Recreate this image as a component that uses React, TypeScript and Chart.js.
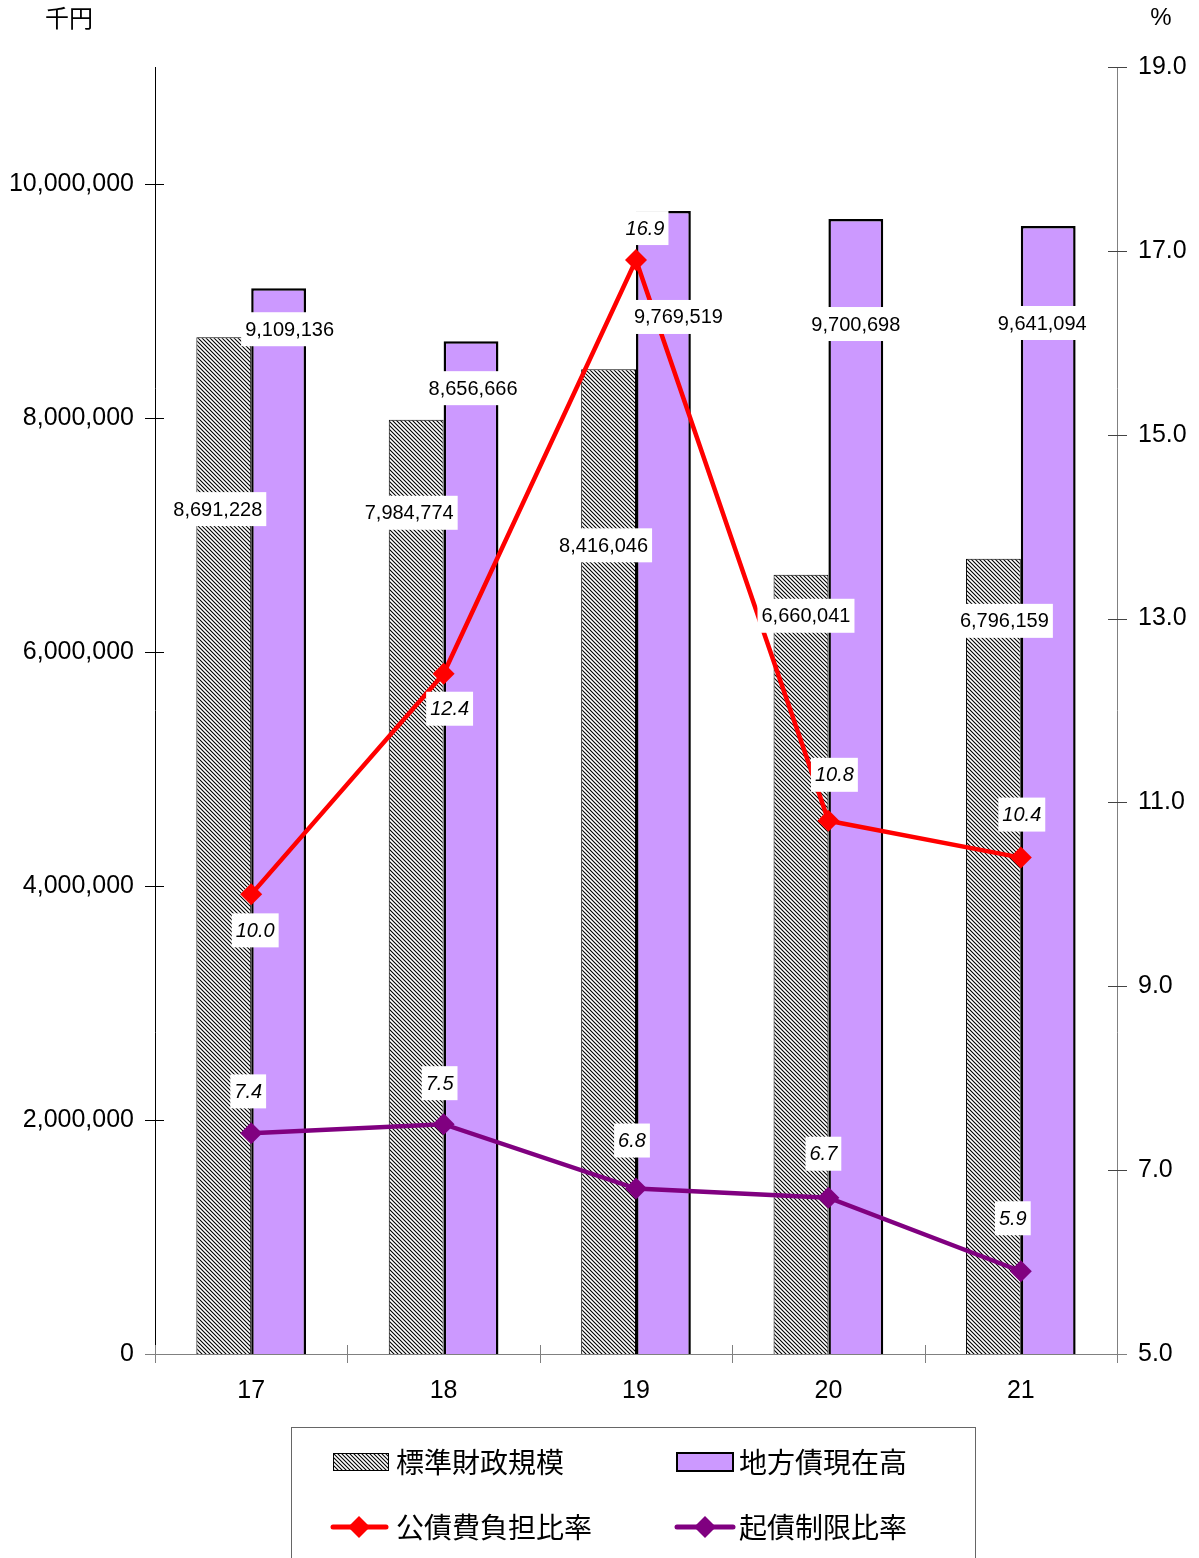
import React, { useEffect, useRef } from "react";
import { Chart, registerables } from "chart.js";

Chart.register(...registerables);

// 年度
const categories = ["17", "18", "19", "20", "21"];
// 千円
const standardScale = [8691228, 7984774, 8416046, 6660041, 6796159];
const debtBalance = [9109136, 8656666, 9769519, 9700698, 9641094];
// %
const debtServiceRatio = [10.0, 12.4, 16.9, 10.8, 10.4];
const debtLimitRatio = [7.4, 7.5, 6.8, 6.7, 5.9];

const leftTicks = [0, 2000000, 4000000, 6000000, 8000000, 10000000];
const rightTicks = [5, 7, 9, 11, 13, 15, 17, 19];

// label offsets (px) from each mark's anchor point
const standardLabelOffsets = [[-6, 172], [-7, 93], [-5, 176], [5, 41], [11, 62]];
const balanceLabelOffsets = [[11, 41], [2, 47], [15, 106], [0, 105], [-6, 97]];
const serviceLabelOffsets = [[4, 36], [6, 35], [9, -32], [6, -46], [1, -43]];
const limitLabelOffsets = [[-3, -42], [-4, -41], [-4, -48], [-5, -44], [-8, -53]];

const W = 1199;
const H = 1558;
const SANS = "'Liberation Sans', Arial, sans-serif";
const CJK = "'Noto Sans CJK JP', 'Noto Sans', sans-serif";
const PURPLE_FILL = "#CC99FF";
const RED = "#FF0000";
const PURPLE_LINE = "#800080";

function makeHatch(): CanvasPattern | string {
  const p = 4;
  const tile = document.createElement("canvas");
  tile.width = p;
  tile.height = p;
  const c = tile.getContext("2d");
  if (!c) return "#999";
  c.fillStyle = "#ffffff";
  c.fillRect(0, 0, p, p);
  c.strokeStyle = "#000000";
  c.lineWidth = 1.1;
  c.beginPath();
  c.moveTo(-1, -1);
  c.lineTo(p + 1, p + 1);
  c.moveTo(-1, p - 1);
  c.lineTo(1, p + 1);
  c.moveTo(p - 1, -1);
  c.lineTo(p + 1, 1);
  c.stroke();
  const ctx = document.createElement("canvas").getContext("2d");
  const pat = ctx ? ctx.createPattern(tile, "repeat") : null;
  return pat || "#999";
}

const fmt = (v: number) => v.toLocaleString("en-US");

function drawBoxedText(
  ctx: CanvasRenderingContext2D,
  text: string,
  cx: number,
  cy: number,
  font: string
) {
  ctx.font = font;
  const w = ctx.measureText(text).width;
  const padX = 4;
  const h = 34;
  ctx.fillStyle = "#ffffff";
  ctx.fillRect(cx - w / 2 - padX, cy - h / 2, w + padX * 2, h);
  ctx.fillStyle = "#000000";
  ctx.textAlign = "center";
  ctx.textBaseline = "middle";
  ctx.fillText(text, cx, cy + 1);
}

function drawDiamond(ctx: CanvasRenderingContext2D, x: number, y: number, r: number, color: string) {
  ctx.fillStyle = color;
  ctx.beginPath();
  ctx.moveTo(x, y - r);
  ctx.lineTo(x + r, y);
  ctx.lineTo(x, y + r);
  ctx.lineTo(x - r, y);
  ctx.closePath();
  ctx.fill();
}

export default function App() {
  const canvasRef = useRef<HTMLCanvasElement | null>(null);

  useEffect(() => {
    const canvas = canvasRef.current;
    if (!canvas) return;
    const hatch = makeHatch();

    const axesPlugin = {
      id: "axesAndFrame",
      beforeDatasetsDraw(chart: any) {
        const ctx: CanvasRenderingContext2D = chart.ctx;
        const { left, right, top, bottom } = chart.chartArea;
        const y = chart.scales.y;
        const y1 = chart.scales.y1;
        ctx.save();
        // left axis
        ctx.strokeStyle = "#000000";
        ctx.lineWidth = 1;
        ctx.beginPath();
        ctx.moveTo(Math.round(left) + 0.5, top);
        ctx.lineTo(Math.round(left) + 0.5, bottom);
        leftTicks.forEach((v) => {
          const py = Math.round(y.getPixelForValue(v)) + 0.5;
          ctx.moveTo(left - 10, py);
          ctx.lineTo(left + 9, py);
        });
        ctx.stroke();
        // right axis
        ctx.strokeStyle = "#808080";
        ctx.beginPath();
        ctx.moveTo(Math.round(right) + 0.5, top);
        ctx.lineTo(Math.round(right) + 0.5, bottom);
        ctx.stroke();
        ctx.strokeStyle = "#444444";
        ctx.beginPath();
        rightTicks.forEach((v) => {
          const py = Math.round(y1.getPixelForValue(v)) + 0.5;
          ctx.moveTo(right - 9, py);
          ctx.lineTo(right + 10, py);
        });
        ctx.stroke();
        // category axis
        ctx.strokeStyle = "#808080";
        ctx.beginPath();
        ctx.moveTo(left - 10, Math.round(bottom) + 0.5);
        ctx.lineTo(right + 10, Math.round(bottom) + 0.5);
        const n = categories.length;
        for (let i = 0; i <= n; i++) {
          const px = Math.round(left + ((right - left) * i) / n) + 0.5;
          ctx.moveTo(px, bottom - 9);
          ctx.lineTo(px, bottom + 9);
        }
        ctx.stroke();
        ctx.restore();
      },
      afterDatasetsDraw(chart: any) {
        const ctx: CanvasRenderingContext2D = chart.ctx;
        ctx.save();
        const barFont = `20px ${SANS}`;
        const lineFont = `italic 20px ${SANS}`;
        const m0 = chart.getDatasetMeta(0).data;
        const m1 = chart.getDatasetMeta(1).data;
        const m2 = chart.getDatasetMeta(2).data;
        const m3 = chart.getDatasetMeta(3).data;
        m0.forEach((el: any, i: number) => {
          const [dx, dy] = standardLabelOffsets[i];
          drawBoxedText(ctx, fmt(standardScale[i]), el.x + dx, el.y + dy, barFont);
        });
        m1.forEach((el: any, i: number) => {
          const [dx, dy] = balanceLabelOffsets[i];
          drawBoxedText(ctx, fmt(debtBalance[i]), el.x + dx, el.y + dy, barFont);
        });
        m2.forEach((el: any, i: number) => {
          const [dx, dy] = serviceLabelOffsets[i];
          drawBoxedText(ctx, debtServiceRatio[i].toFixed(1), el.x + dx, el.y + dy, lineFont);
        });
        m3.forEach((el: any, i: number) => {
          const [dx, dy] = limitLabelOffsets[i];
          drawBoxedText(ctx, debtLimitRatio[i].toFixed(1), el.x + dx, el.y + dy, lineFont);
        });
        ctx.restore();
      },
      afterDraw(chart: any) {
        const ctx: CanvasRenderingContext2D = chart.ctx;
        ctx.save();
        // unit captions
        ctx.fillStyle = "#000000";
        ctx.textBaseline = "middle";
        ctx.textAlign = "left";
        ctx.font = `24px ${CJK}`;
        ctx.fillText("千円", 45, 18);
        ctx.textAlign = "center";
        ctx.font = `24px ${SANS}`;
        ctx.fillText("%", 1161, 18);

        // legend frame
        ctx.strokeStyle = "#666666";
        ctx.lineWidth = 1;
        ctx.strokeRect(291.5, 1427.5, 684, 200);

        const row1 = 1462;
        const row2 = 1527;
        // bar swatches
        ctx.fillStyle = hatch as any;
        ctx.fillRect(333, 1453, 56, 18);
        ctx.strokeStyle = "#000000";
        ctx.lineWidth = 1;
        ctx.strokeRect(333.5, 1453.5, 55, 17);
        ctx.fillStyle = PURPLE_FILL;
        ctx.fillRect(677, 1453, 56, 18);
        ctx.lineWidth = 2;
        ctx.strokeRect(677, 1453, 56, 18);
        // line swatches
        ctx.lineCap = "round";
        ctx.lineWidth = 5;
        ctx.strokeStyle = RED;
        ctx.beginPath();
        ctx.moveTo(333, row2);
        ctx.lineTo(386, row2);
        ctx.stroke();
        drawDiamond(ctx, 359, row2, 11, RED);
        ctx.strokeStyle = PURPLE_LINE;
        ctx.beginPath();
        ctx.moveTo(677, row2);
        ctx.lineTo(733, row2);
        ctx.stroke();
        drawDiamond(ctx, 705, row2, 11, PURPLE_LINE);

        ctx.fillStyle = "#000000";
        ctx.textAlign = "left";
        ctx.textBaseline = "middle";
        ctx.font = `28px ${CJK}`;
        ctx.fillText("標準財政規模", 396, row1);
        ctx.fillText("地方債現在高", 739, row1);
        ctx.fillText("公債費負担比率", 396, row2);
        ctx.fillText("起債制限比率", 739, row2);
        ctx.restore();
      },
    };

    const chart = new Chart(canvas, {
      type: "bar",
      data: {
        labels: categories,
        datasets: [
          {
            type: "bar",
            label: "標準財政規模",
            data: standardScale,
            yAxisID: "y",
            backgroundColor: hatch as any,
            borderColor: "#000000",
            borderWidth: 1,
            categoryPercentage: 0.57,
            barPercentage: 1.0,
            order: 2,
          },
          {
            type: "bar",
            label: "地方債現在高",
            data: debtBalance,
            yAxisID: "y",
            backgroundColor: PURPLE_FILL,
            borderColor: "#000000",
            borderWidth: 2.5,
            categoryPercentage: 0.57,
            barPercentage: 1.0,
            order: 2,
          },
          {
            type: "line",
            label: "公債費負担比率",
            data: debtServiceRatio,
            yAxisID: "y1",
            borderColor: RED,
            backgroundColor: RED,
            borderWidth: 4.5,
            pointStyle: "rectRot",
            pointRadius: 11,
            pointBorderWidth: 0,
            pointBackgroundColor: RED,
            tension: 0,
            order: 0,
          },
          {
            type: "line",
            label: "起債制限比率",
            data: debtLimitRatio,
            yAxisID: "y1",
            borderColor: PURPLE_LINE,
            backgroundColor: PURPLE_LINE,
            borderWidth: 4.5,
            pointStyle: "rectRot",
            pointRadius: 11,
            pointBorderWidth: 0,
            pointBackgroundColor: PURPLE_LINE,
            tension: 0,
            order: 0,
          },
        ] as any,
      },
      options: {
        responsive: false,
        animation: false,
        layout: { padding: { top: 67, left: 0, right: 0, bottom: 0 } },
        plugins: {
          legend: { display: false },
          tooltip: { enabled: false },
          title: { display: false },
        },
        scales: {
          x: {
            grid: { display: false, drawTicks: false },
            border: { display: false },
            ticks: {
              color: "#000000",
              font: { family: SANS, size: 25 },
              padding: 22,
            },
            afterFit: (s: any) => {
              s.height = 204;
            },
          },
          y: {
            position: "left",
            min: 0,
            max: 11000000,
            grid: { display: false, drawTicks: false },
            border: { display: false },
            ticks: {
              stepSize: 2000000,
              color: "#000000",
              font: { family: SANS, size: 25 },
              padding: 21,
              callback: (v: any) => fmt(Number(v)),
            },
            afterBuildTicks: (s: any) => {
              s.ticks = leftTicks.map((v) => ({ value: v }));
            },
            afterFit: (s: any) => {
              s.width = 155;
            },
          },
          y1: {
            position: "right",
            min: 5,
            max: 19,
            grid: { display: false, drawTicks: false },
            border: { display: false },
            ticks: {
              stepSize: 2,
              color: "#000000",
              font: { family: SANS, size: 25 },
              padding: 21,
              callback: (v: any) => Number(v).toFixed(1),
            },
            afterBuildTicks: (s: any) => {
              s.ticks = rightTicks.map((v) => ({ value: v }));
            },
            afterFit: (s: any) => {
              s.width = 82;
            },
          },
        },
      } as any,
      plugins: [axesPlugin],
    });

    return () => {
      chart.destroy();
    };
  }, []);

  return (
    <div style={{ position: "absolute", left: 0, top: 0, width: W, height: H, background: "#ffffff" }}>
      <canvas ref={canvasRef} width={W} height={H} style={{ display: "block" }} />
    </div>
  );
}
